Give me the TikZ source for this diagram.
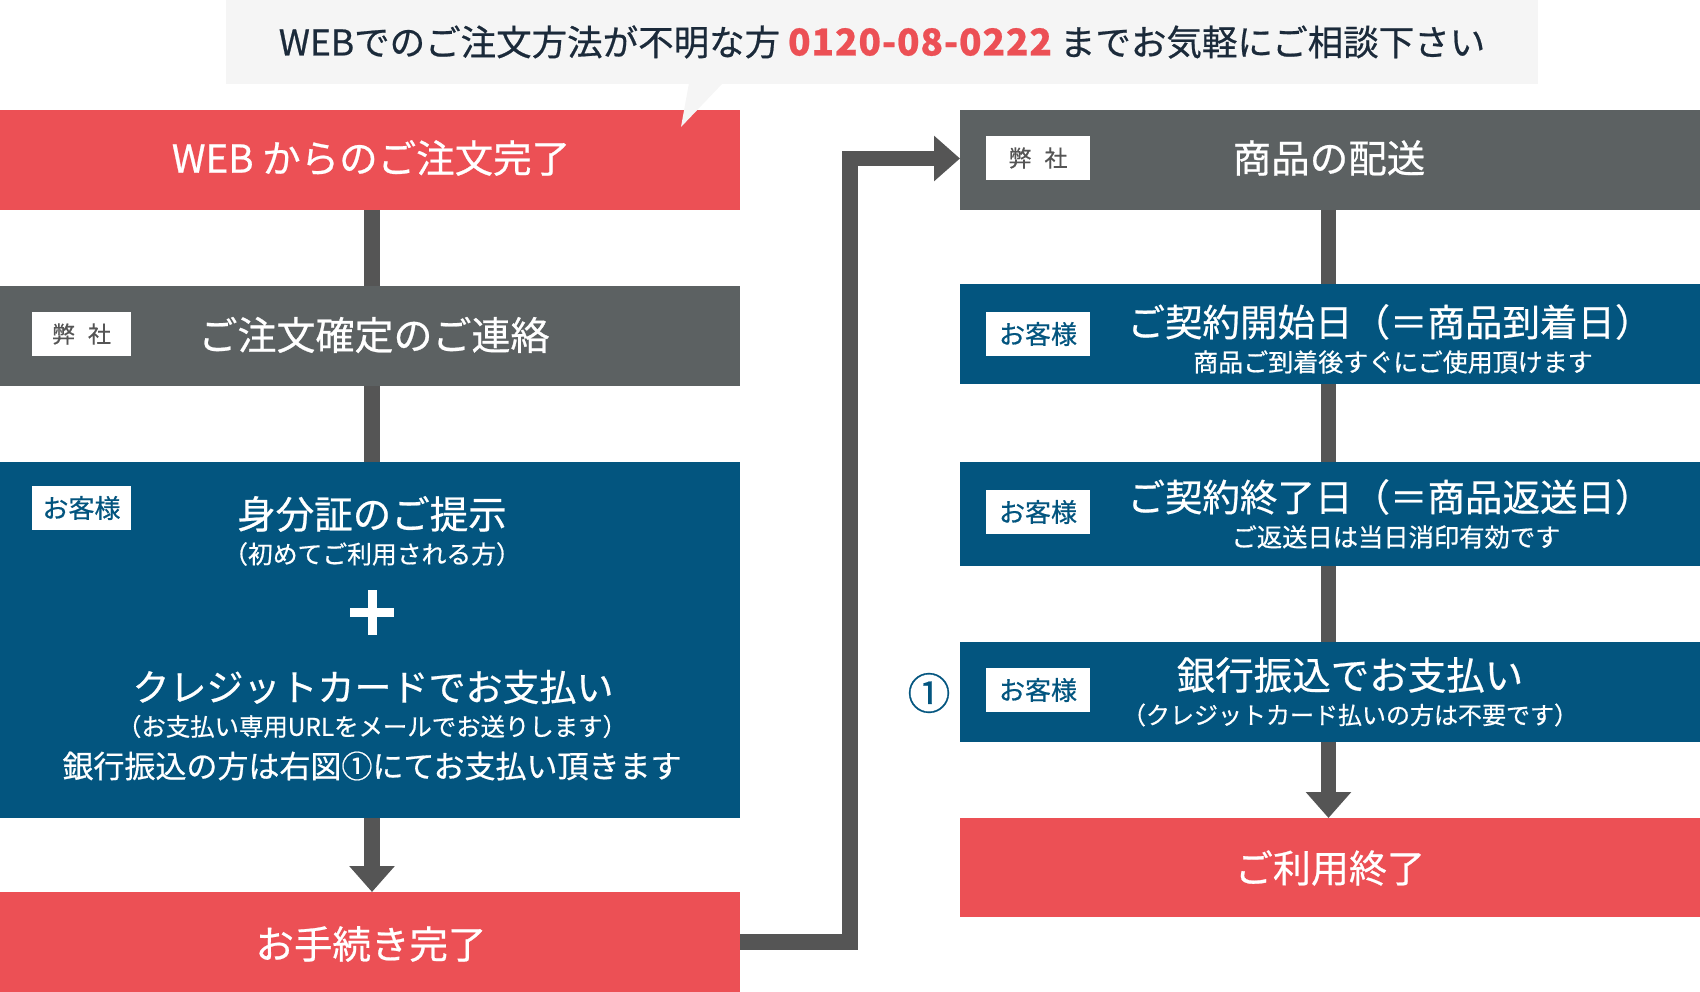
\documentclass[tikz,border=0pt]{standalone}
\usepackage{fontspec}
\setmainfont{Noto Sans CJK JP}[RawFeature={embolden=0.6}]
\usetikzlibrary{arrows.meta}
\definecolor{cred}{HTML}{EC5055}
\definecolor{cgray}{HTML}{5C6162}
\definecolor{cblue}{HTML}{03557F}
\definecolor{cline}{HTML}{555555}
\definecolor{cbub}{HTML}{F5F5F5}
\definecolor{ctext}{HTML}{1B2A3A}
\definecolor{clabel}{HTML}{555555}
\newcommand{\fs}[1]{\fontsize{#1}{#1}\selectfont}
\begin{document}
\begin{tikzpicture}[x=1pt,y=-1pt,
  box/.style={inner sep=0pt, outer sep=0pt, minimum width=740pt, anchor=north west},
  wt/.style={inner sep=0pt, text=white},
  labg/.style={fill=white, inner sep=0pt, minimum width=99pt, minimum height=44pt, text=clabel, font=\fs{23}},
  labb/.style={fill=white, inner sep=0pt, minimum width=99pt, minimum height=44pt, text=cblue, font=\fs{26}},
  conn/.style={draw=cline, line width=15.5pt},
  arr/.style={conn, -{Triangle[width=44pt,length=26pt]}}
]
\useasboundingbox (0,0) rectangle (1700,992);
% left column boxes
\node[box, fill=cred, minimum height=100pt] (b1) at (0,110) {};
\node[box, fill=cgray, minimum height=100pt] (b2) at (0,286) {};
\node[box, fill=cblue, minimum height=356pt] (b3) at (0,462) {};
\node[box, fill=cred, minimum height=100pt] (b4) at (0,892) {};
% right column boxes
\node[box, fill=cgray, minimum height=100pt] (r1) at (960,110) {};
\node[box, fill=cblue, minimum height=100pt] (r2) at (960,284) {};
\node[box, fill=cblue, minimum height=104pt] (r3) at (960,462) {};
\node[box, fill=cblue, minimum height=100pt] (r4) at (960,642) {};
\node[box, fill=cred, minimum height=99pt] (r5) at (960,818) {};
% connectors left
\coordinate (c1) at (372,0);
\draw[conn] (b1.south -| c1) -- (b2.north -| c1);
\draw[conn] (b2.south -| c1) -- (b3.north -| c1);
\draw[arr] (b3.south -| c1) -- (b4.north -| c1);
% connectors right
\coordinate (c2) at (1328.5,0);
\draw[conn] (r1.south -| c2) -- (r2.north -| c2);
\draw[conn] (r2.south -| c2) -- (r3.north -| c2);
\draw[conn] (r3.south -| c2) -- (r4.north -| c2);
\draw[arr] (r4.south -| c2) -- (r5.north -| c2);
% elbow connector
\coordinate (e1) at (850,942);
\coordinate (e2) at (850,158.5);
\draw[arr, line join=miter] (b4.east |- e1) -- (e1) -- (e2) -- (r1.west |- e2);
% bubble
\node[fill=cbub, inner sep=0pt, outer sep=0pt, minimum width=1312pt, minimum height=84pt, anchor=north west] (bub) at (226,0) {};
\fill[cbub] (689,83) -- (723,83) -- (681,127) -- cycle;
\node[inner sep=0pt, text=ctext, font=\fs{35.5}] (top) at (882,42) {WEBでのご注文方法が不明な方 {\bfseries\fs{37}\addfontfeature{LetterSpace=2.5}\textcolor{cred}{0120-08-0222}} までお気軽にご相談下さい};
% left texts
\node[wt, font=\fs{38.5}] (t1) at (371,158) {WEB からのご注文完了};
\node[labg] (l2) at (81.5,334) {弊\hspace{13pt}社};
\node[wt, font=\fs{39}] (t2) at (374,335) {ご注文確定のご連絡};
\node[labb] (l3) at (81.5,508) {お客様};
\node[wt, font=\fs{38.5}] (t3a) at (372,514) {身分証のご提示};
\node[wt, font=\fs{24.8}] (t3b) at (372,554) {（初めてご利用される方）};
\draw[white, line width=9pt] (350,612) -- (394,612);
\draw[white, line width=9pt] (372,590) -- (372,635);
\node[wt, font=\fs{37}] (t3c) at (373,687) {クレジットカードでお支払い};
\node[wt, font=\fs{24.4}] (t3d) at (372,726.5) {（お支払い専用URLをメールでお送りします）};
\node[wt, font=\fs{31}] (t3e) at (372,766) {銀行振込の方は右図①にてお支払い頂きます};
\node[wt, font=\fs{38.5}] (t4) at (371,944) {お手続き完了};
% right texts
\node[labg, minimum width=104pt] (lr1) at (1038,158) {弊\hspace{13pt}社};
\node[wt, font=\fs{38.5}] (s1) at (1329,158) {商品の配送};
\node[labb, minimum width=104pt] (lr2) at (1038,334) {お客様};
\node[wt, font=\fs{37.5}] (s2a) at (1390,322) {ご契約開始日（＝商品到着日）};
\node[wt, font=\fs{25}] (s2b) at (1393,362) {商品ご到着後すぐにご使用頂けます};
\node[labb, minimum width=104pt] (lr3) at (1038,512) {お客様};
\node[wt, font=\fs{37.5}] (s3a) at (1390,497) {ご契約終了日（＝商品返送日）};
\node[wt, font=\fs{25.3}] (s3b) at (1396,537) {ご返送日は当日消印有効です};
\node[labb, minimum width=104pt] (lr4) at (1038,690) {お客様};
\node[inner sep=0pt, text=cblue, font=\fs{43}] (n1) at (929,693) {①};
\node[wt, font=\fs{38.5}] (s4a) at (1350,675) {銀行振込でお支払い};
\node[wt, font=\fs{24}] (s4b) at (1350,715) {（クレジットカード払いの方は不要です）};
\node[wt, font=\fs{38}] (s5) at (1330,868) {ご利用終了};
\end{tikzpicture}
\end{document}
